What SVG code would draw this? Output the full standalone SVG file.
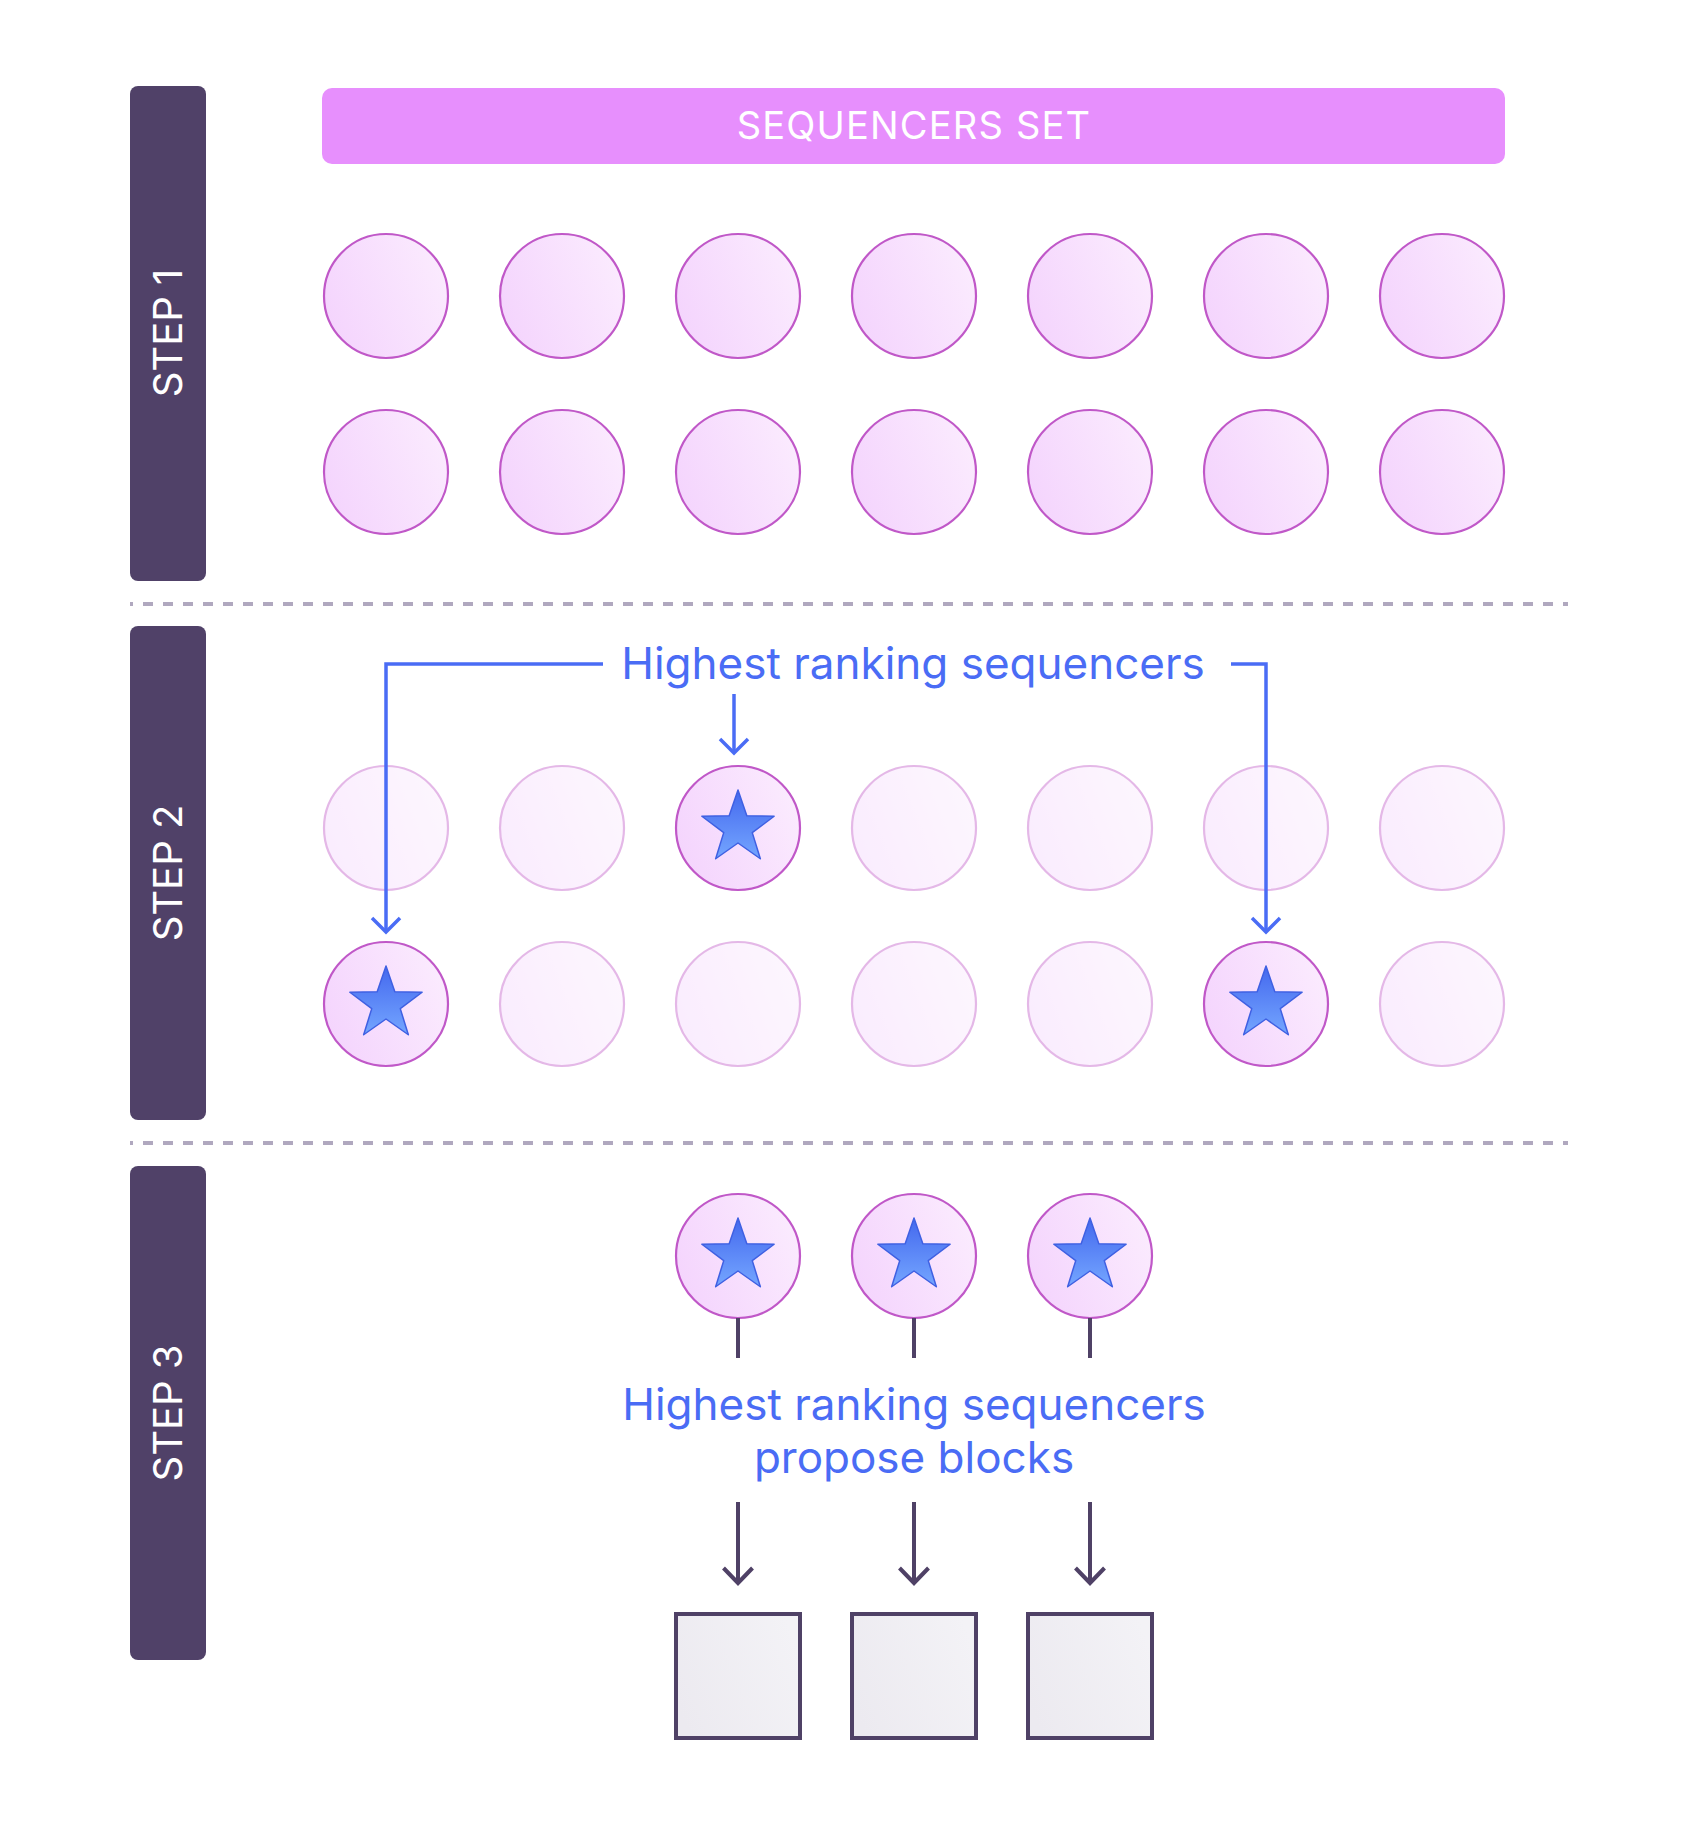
<svg xmlns="http://www.w3.org/2000/svg" width="1700" height="1826" viewBox="0 0 1700 1826">
  <style>
    .step { fill: #504168; }
    .steplbl { font-family: Inter, "Noto Sans", "Liberation Sans", sans-serif; font-size: 40px; fill: #ffffff; text-anchor: middle; }
    .node { fill: url(#nodeFill); stroke: #C058C8; stroke-width: 2.2; }
    .faded { opacity: 0.42; }
    .star { fill: url(#starFill); stroke: #3F60E2; stroke-width: 1.5; stroke-linejoin: round; }
    .blue { fill: none; stroke: #4A6CF5; stroke-width: 3.5; }
    .dark { fill: none; stroke: #4F4166; stroke-width: 4; }
    .label { font-family: Inter, "Noto Sans", "Liberation Sans", sans-serif; font-size: 44px; fill: #4A6CF5; text-anchor: middle; }
    .divider { stroke: #B0A8BF; stroke-width: 4; stroke-dasharray: 10 10; stroke-dashoffset: 7; }
    .block { fill: url(#blockFill); stroke: #4F4166; stroke-width: 4; }
  </style>
  <defs>
    <linearGradient id="nodeFill" x1="0" y1="0.7" x2="1" y2="0.3">
      <stop offset="0" stop-color="#F4D4FD"/>
      <stop offset="1" stop-color="#FBEBFE"/>
    </linearGradient>
    <linearGradient id="starFill" x1="0" y1="0" x2="0" y2="1">
      <stop offset="0" stop-color="#4468EE"/>
      <stop offset="1" stop-color="#74A6FF"/>
    </linearGradient>
    <linearGradient id="blockFill" x1="0" y1="0.7" x2="1" y2="0.3">
      <stop offset="0" stop-color="#ECEAF0"/>
      <stop offset="1" stop-color="#F3F2F6"/>
    </linearGradient>
    <path id="starShape" class="star" d="M0,-38 L8.82,-12.14 L36.14,-11.74 L14.27,4.64 L22.34,30.74 L0,15 L-22.34,30.74 L-14.27,4.64 L-36.14,-11.74 L-8.82,-12.14 Z"/>
    <marker id="arrBlue" markerUnits="userSpaceOnUse" viewBox="-18 -17 21 34" refX="0" refY="0" markerWidth="21" markerHeight="34" orient="auto">
      <path d="M-14,-14 L0,0 L-14,14" fill="none" stroke="#4A6CF5" stroke-width="3.5" stroke-linejoin="miter"/>
    </marker>
    <marker id="arrDark" markerUnits="userSpaceOnUse" viewBox="-19 -18 22 36" refX="0" refY="0" markerWidth="22" markerHeight="36" orient="auto">
      <path d="M-15,-14.5 L0,0 L-15,14.5" fill="none" stroke="#4F4166" stroke-width="4" stroke-linejoin="miter"/>
    </marker>
  </defs>

  <rect width="1700" height="1826" fill="#ffffff"/>

  <!-- Step bars -->
  <g id="step1">
    <rect class="step" x="130" y="86" width="76" height="495" rx="8"/>
    <text class="steplbl" transform="translate(182,333) rotate(-90)">STEP 1</text>
  </g>
  <g id="step2">
    <rect class="step" x="130" y="626" width="76" height="494" rx="8"/>
    <text class="steplbl" transform="translate(182,873) rotate(-90)">STEP 2</text>
  </g>
  <g id="step3">
    <rect class="step" x="130" y="1166" width="76" height="494" rx="8"/>
    <text class="steplbl" transform="translate(182,1413) rotate(-90)">STEP 3</text>
  </g>

  <!-- Dividers -->
  <line class="divider" x1="130" y1="604" x2="1568" y2="604"/>
  <line class="divider" x1="130" y1="1143" x2="1568" y2="1143"/>

  <!-- Sequencers set header -->
  <g id="sequencers-set">
    <rect x="322" y="88" width="1183" height="76" rx="10" fill="#E78FFD"/>
    <text x="914" y="139" font-family="Inter, 'Noto Sans', 'Liberation Sans', sans-serif" font-size="38" fill="#ffffff" text-anchor="middle" letter-spacing="1.2">SEQUENCERS SET</text>
  </g>

  <!-- Step 1 nodes -->
  <g id="step1-row1">
    <circle class="node" cx="386" cy="296" r="62"/>
    <circle class="node" cx="562" cy="296" r="62"/>
    <circle class="node" cx="738" cy="296" r="62"/>
    <circle class="node" cx="914" cy="296" r="62"/>
    <circle class="node" cx="1090" cy="296" r="62"/>
    <circle class="node" cx="1266" cy="296" r="62"/>
    <circle class="node" cx="1442" cy="296" r="62"/>
  </g>
  <g id="step1-row2">
    <circle class="node" cx="386" cy="472" r="62"/>
    <circle class="node" cx="562" cy="472" r="62"/>
    <circle class="node" cx="738" cy="472" r="62"/>
    <circle class="node" cx="914" cy="472" r="62"/>
    <circle class="node" cx="1090" cy="472" r="62"/>
    <circle class="node" cx="1266" cy="472" r="62"/>
    <circle class="node" cx="1442" cy="472" r="62"/>
  </g>

  <!-- Step 2 nodes -->
  <g id="step2-faded" class="faded">
    <circle class="node" cx="386" cy="828" r="62"/>
    <circle class="node" cx="562" cy="828" r="62"/>
    <circle class="node" cx="914" cy="828" r="62"/>
    <circle class="node" cx="1090" cy="828" r="62"/>
    <circle class="node" cx="1266" cy="828" r="62"/>
    <circle class="node" cx="1442" cy="828" r="62"/>
    <circle class="node" cx="562" cy="1004" r="62"/>
    <circle class="node" cx="738" cy="1004" r="62"/>
    <circle class="node" cx="914" cy="1004" r="62"/>
    <circle class="node" cx="1090" cy="1004" r="62"/>
    <circle class="node" cx="1442" cy="1004" r="62"/>
  </g>
  <g id="step2-star-a">
    <circle class="node" cx="738" cy="828" r="62"/>
    <use href="#starShape" x="738" y="828"/>
  </g>
  <g id="step2-star-b">
    <circle class="node" cx="386" cy="1004" r="62"/>
    <use href="#starShape" x="386" y="1004"/>
  </g>
  <g id="step2-star-c">
    <circle class="node" cx="1266" cy="1004" r="62"/>
    <use href="#starShape" x="1266" y="1004"/>
  </g>
  <g id="step2-label">
    <text class="label" x="913" y="679">Highest ranking sequencers</text>
  </g>

  <!-- Step 3 nodes -->
  <g id="step3-star-a">
    <circle class="node" cx="738" cy="1256" r="62"/>
    <use href="#starShape" x="738" y="1256"/>
  </g>
  <g id="step3-star-b">
    <circle class="node" cx="914" cy="1256" r="62"/>
    <use href="#starShape" x="914" y="1256"/>
  </g>
  <g id="step3-star-c">
    <circle class="node" cx="1090" cy="1256" r="62"/>
    <use href="#starShape" x="1090" y="1256"/>
  </g>
  <g id="step3-label">
    <text class="label" x="914" y="1420">Highest ranking sequencers</text>
    <text class="label" x="914" y="1473">propose blocks</text>
  </g>
  <g id="block-a"><rect class="block" x="676" y="1614" width="124" height="124"/></g>
  <g id="block-b"><rect class="block" x="852" y="1614" width="124" height="124"/></g>
  <g id="block-c"><rect class="block" x="1028" y="1614" width="124" height="124"/></g>

  <!-- Connectors -->
  <g id="connectors">
    <path class="blue" d="M603,664 H386 V932" marker-end="url(#arrBlue)"/>
    <path class="blue" d="M734,694 V753" marker-end="url(#arrBlue)"/>
    <path class="blue" d="M1231,664 H1266 V932" marker-end="url(#arrBlue)"/>
    <line class="dark" x1="738" y1="1318" x2="738" y2="1358"/>
    <line class="dark" x1="914" y1="1318" x2="914" y2="1358"/>
    <line class="dark" x1="1090" y1="1318" x2="1090" y2="1358"/>
    <path class="dark" d="M738,1502 V1583" marker-end="url(#arrDark)"/>
    <path class="dark" d="M914,1502 V1583" marker-end="url(#arrDark)"/>
    <path class="dark" d="M1090,1502 V1583" marker-end="url(#arrDark)"/>
  </g>
</svg>
